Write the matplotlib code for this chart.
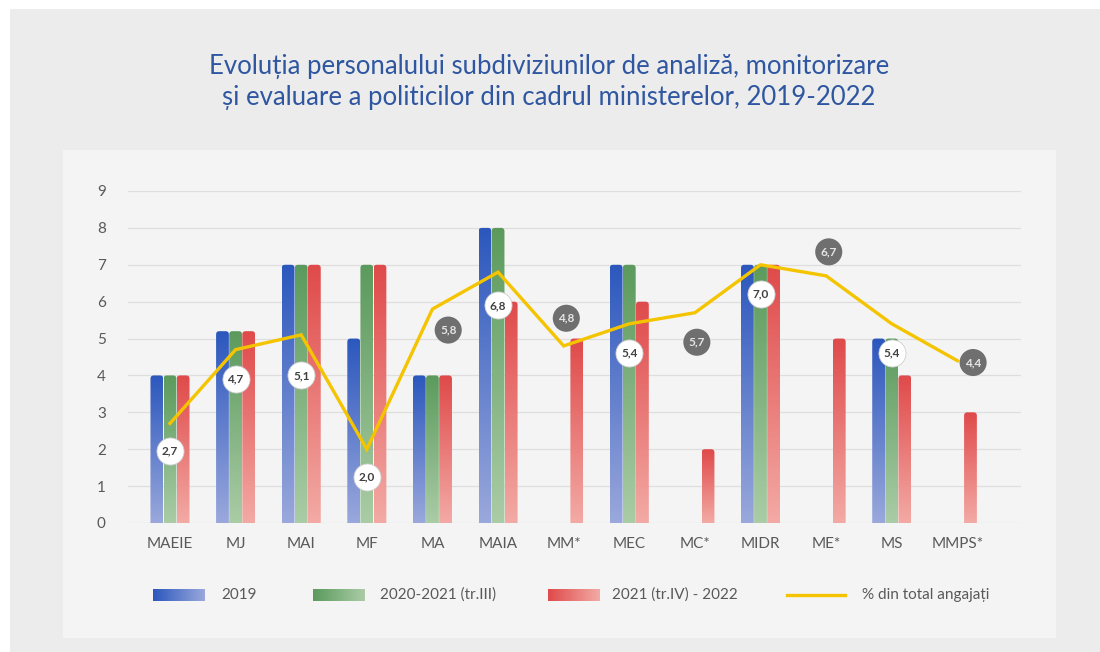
import numpy as np
import matplotlib
matplotlib.use("Agg")
from matplotlib import pyplot as plt
from matplotlib.patches import Rectangle, FancyBboxPatch
from matplotlib.colors import LinearSegmentedColormap

plt.rcParams["font.family"] = ["Lato", "DejaVu Sans"]

TITLE = "Evoluția personalului subdiviziunilor de analiză, monitorizare\nși evaluare a politicilor din cadrul ministerelor, 2019-2022"

categories = ["MAEIE", "MJ", "MAI", "MF", "MA", "MAIA", "MM*", "MEC", "MC*", "MIDR", "ME*", "MS", "MMPS*"]
y2019 = [4, 5.2, 7, 5, 4, 8, 0, 7, 0, 7, 0, 5, 0]
y2020_2021 = [4, 5.2, 7, 7, 4, 8, 0, 7, 0, 7, 0, 5, 0]
y2021_2022 = [4, 5.2, 7, 7, 4, 6, 5, 6, 2, 7, 5, 4, 3]
pct_total = [2.7, 4.7, 5.1, 2.0, 5.8, 6.8, 4.8, 5.4, 5.7, 7.0, 6.7, 5.4, 4.4]
pct_labels = ["2,7", "4,7", "5,1", "2,0", "5,8", "6,8", "4,8", "5,4", "5,7", "7,0", "6,7", "5,4", "4,4"]
series_names = ["2019", "2020-2021 (tr.III)", "2021 (tr.IV) - 2022"]
line_name = "% din total angajați"

# label placement (offsets from the line point) and style
label_dx = [0, 0, 0, 0, 0.24, 0, 0.04, 0, 0.03, 0, 0.04, 0, 0.24]
label_dy = [-0.75, -0.8, -1.1, -0.75, -0.57, -0.9, 0.75, -0.8, -0.8, -0.8, 0.65, -0.8, -0.05]
label_dark = [False, False, False, False, True, False, True, False, True, False, True, False, True]

# (top colour, bottom colour) per series
grads = [("#2b57bd", "#9aa8dc"), ("#5b9a5c", "#aacca6"), ("#df4a4a", "#f3aaa5")]
LINE_COLOR = "#f5c400"

W, H = 1100, 652
fig = plt.figure(figsize=(W / 100, H / 100), dpi=100)
fig.patch.set_facecolor("white")

# background panels
fig.add_artist(Rectangle((10 / W, 0), 1 - 10 / W, 1 - 9 / H, transform=fig.transFigure,
                         facecolor="#ececed", edgecolor="none", zorder=-3))
fig.add_artist(Rectangle((63 / W, 1 - 638 / H), (1056 - 63) / W, (638 - 150) / H,
                         transform=fig.transFigure, facecolor="#f4f4f4", edgecolor="none", zorder=-2))

fig.text(549 / W, 1 - 82 / H, TITLE, ha="center", va="center", fontsize=18.5,
         color="#2f56a0", linespacing=1.32)

ax = fig.add_axes([128 / W, 1 - 523 / H, (1021 - 128) / W, (523 - 191) / H])
ax.set_facecolor("none")
ax.set_xlim(-0.64, 12.97)
ax.set_ylim(0, 9)
for s in ax.spines.values():
    s.set_visible(False)
ax.set_yticks(range(10))
ax.yaxis.grid(True, color="#dedede", lw=0.9)
ax.set_axisbelow(True)
ax.tick_params(length=0, colors="#595959", labelsize=11)
ax.tick_params(axis="y", pad=16)
ax.tick_params(axis="x", pad=10)
x = np.arange(len(categories))
ax.set_xticks(x)
ax.set_xticklabels(categories)

width = 0.195
offsets = [-0.2, 0.0, 0.2]
aspect = (65.6 / 36.9)
grad_img = np.linspace(0, 1, 256).reshape(-1, 1)
for vals, off, (top, bot) in zip([y2019, y2020_2021, y2021_2022], offsets, grads):
    cmap = LinearSegmentedColormap.from_list("g", [bot, top])
    bars = ax.bar(x + off, vals, width, color="none", edgecolor="none")
    for b, v in zip(bars, vals):
        if v <= 0:
            continue
        x0 = b.get_x()
        clip = FancyBboxPatch((x0, -0.5), width, v + 0.5,
                              boxstyle="round,pad=0,rounding_size=0.05",
                              mutation_aspect=aspect, transform=ax.transData,
                              facecolor="none", edgecolor="none")
        ax.add_patch(clip)
        im = ax.imshow(grad_img, cmap=cmap, origin="lower", aspect="auto",
                       extent=(x0, x0 + width, 0, v), zorder=2)
        im.set_clip_path(clip)

ax.plot(x, pct_total, color=LINE_COLOR, lw=2.4, zorder=3, solid_joinstyle="miter")

lx = x + np.array(label_dx)
ly = np.array(pct_total) + np.array(label_dy)
for xi, yi, txt, dark in zip(lx, ly, pct_labels, label_dark):
    face = "#6f6f6f" if dark else "white"
    tc = "#e6e6e6" if dark else "#404040"
    ax.scatter([xi], [yi], s=380, color=face, edgecolors="#d0d0d0" if not dark else "none",
               linewidths=0.6, zorder=4)
    ax.text(xi, yi, txt, ha="center", va="center", fontsize=8.5, color=tc,
            fontweight="bold", zorder=5)

# legend
leg = fig.add_axes([0, 0, 1, 1], facecolor="none")
leg.set_xlim(0, W)
leg.set_ylim(H, 0)
leg.axis("off")
hgrad = np.linspace(0, 1, 256).reshape(1, -1)
legend_x = [153, 313, 548]
text_x = [221, 380, 612]
ly0 = 595
for lx0, tx, name, (top, bot) in zip(legend_x, text_x, series_names, grads):
    cmap = LinearSegmentedColormap.from_list("g", [top, bot])
    leg.imshow(hgrad, cmap=cmap, aspect="auto", extent=(lx0, lx0 + 52, ly0 + 6, ly0 - 6))
    leg.text(tx, ly0, name, ha="left", va="center", fontsize=11, color="#595959")
leg.plot([787, 845], [ly0, ly0], color=LINE_COLOR, lw=2.4)
leg.text(862, ly0, line_name, ha="left", va="center", fontsize=11, color="#595959")
leg.set_xlim(0, W)
leg.set_ylim(H, 0)

fig.savefig("out.png", dpi=100, facecolor=fig.get_facecolor())
